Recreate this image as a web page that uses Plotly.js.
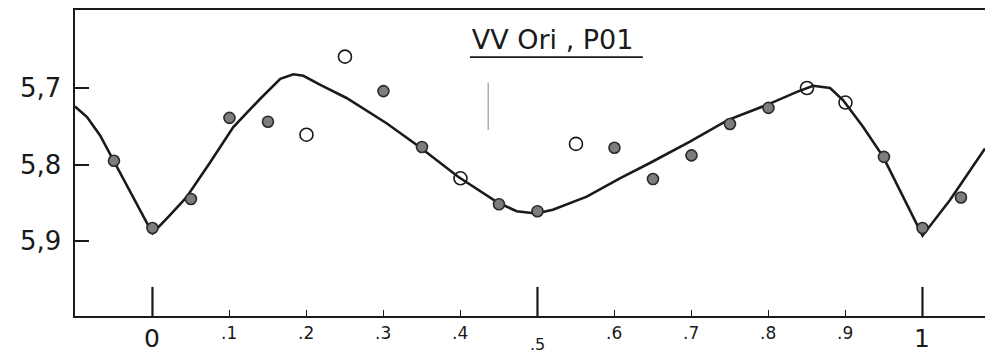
<!DOCTYPE html>
<html>
<head>
<meta charset="utf-8">
<script src="https://cdn.plot.ly/plotly-3.0.1.min.js"></script>
<style>
  html, body { margin: 0; padding: 0; background: #ffffff; }
  #chart { width: 985px; height: 355px; }
</style>
</head>
<body>
<div id="chart"></div>
<script>
// VV Ori light curve (P01): magnitude against phase

// observations, filled symbols
const filledPhase = [-0.05, 0.0, 0.05, 0.10, 0.15, 0.30, 0.35, 0.45, 0.50, 0.60, 0.65, 0.70, 0.75, 0.80, 0.95, 1.00, 1.05];
const filledMag   = [5.795, 5.883, 5.845, 5.739, 5.744, 5.704, 5.777, 5.852, 5.861, 5.778, 5.819, 5.788, 5.747, 5.726, 5.790, 5.883, 5.843];

// observations, open symbols
const openPhase = [0.20, 0.25, 0.40, 0.55, 0.85, 0.90];
const openMag   = [5.761, 5.659, 5.818, 5.773, 5.700, 5.719];

// mean light curve drawn through the points
const curvePhase = [-0.1006, -0.085, -0.068, -0.051, -0.025, 0.0, 0.02, 0.044, 0.075, 0.105, 0.14, 0.166, 0.183, 0.196, 0.218, 0.252, 0.304, 0.347, 0.397, 0.449, 0.473, 0.498, 0.52, 0.564, 0.607, 0.646, 0.698, 0.747, 0.798, 0.837, 0.858, 0.88, 0.897, 0.923, 0.949, 0.975, 1.0, 1.036, 1.0812];
const curveMag   = [5.724, 5.738, 5.762, 5.794, 5.843, 5.890, 5.869, 5.843, 5.797, 5.751, 5.714, 5.688, 5.682, 5.684, 5.696, 5.713, 5.746, 5.777, 5.816, 5.850, 5.861, 5.864, 5.859, 5.842, 5.818, 5.798, 5.770, 5.742, 5.722, 5.705, 5.697, 5.700, 5.716, 5.751, 5.790, 5.842, 5.893, 5.846, 5.779];

// axis labels
const phaseTicks  = [0, 0.1, 0.2, 0.3, 0.4, 0.5, 0.6, 0.7, 0.8, 0.9, 1.0];
const phaseLabels = ['0', '.1', '.2', '.3', '.4', '.5', '.6', '.7', '.8', '.9', '1'];
const magTicks    = [5.7, 5.8, 5.9];
const magLabels   = ['5,7', '5,8', '5,9'];
const markerPhases = [0, 0.5, 1];   // phases marked with long ticks

// a stray pencil stroke near phase 0.44
const strokePhase = [0.436, 0.436];
const strokeMag   = [5.693, 5.755];

const INK = '#1a1a1a';
const FONT = 'DejaVu Sans, Liberation Sans, sans-serif';
const magRange = [5.998, 5.598];

// long ticks rising from the phase axis
const longX = [], longY = [];
markerPhases.forEach(p => { longX.push(p, p, null); longY.push(magRange[0], 5.960, null); });

const traces = [
  { x: curvePhase, y: curveMag, mode: 'lines', type: 'scatter',
    line: { color: INK, width: 2.6, shape: 'linear' }, hoverinfo: 'skip' },
  { x: longX, y: longY, mode: 'lines', type: 'scatter',
    line: { color: INK, width: 2.2 }, hoverinfo: 'skip' },
  { x: strokePhase, y: strokeMag, mode: 'lines', type: 'scatter',
    line: { color: '#9a9a9a', width: 1.2 }, hoverinfo: 'skip' },
  { x: filledPhase, y: filledMag, mode: 'markers', type: 'scatter',
    marker: { size: 11, color: '#7d7d7d', line: { color: '#2a2a2a', width: 1.6 } } },
  { x: openPhase, y: openMag, mode: 'markers', type: 'scatter',
    marker: { size: 13, color: 'rgba(255,255,255,0)', line: { color: INK, width: 1.6 } } }
];

const annotations = [];
phaseTicks.forEach((v, i) => {
  const whole = Math.abs(v - Math.round(v)) < 1e-9;
  const half = Math.abs(v - 0.5) < 1e-9;
  annotations.push({
    x: v, xref: 'x', y: 0, yref: 'paper', text: phaseLabels[i], showarrow: false,
    xanchor: 'center', yanchor: 'middle',
    yshift: whole ? -22 : (half ? -28 : -17),
    font: { family: FONT, size: whole ? 25 : (half ? 16 : 17), color: INK }
  });
});
magTicks.forEach((v, i) => {
  annotations.push({
    x: 0, xref: 'paper', y: v, yref: 'y', text: magLabels[i], showarrow: false,
    xanchor: 'right', yanchor: 'middle', xshift: -12,
    font: { family: FONT, size: 26, color: INK }
  });
});

const layout = {
  width: 985, height: 355,
  margin: { l: 75, r: 0, t: 10, b: 39 },
  paper_bgcolor: '#ffffff', plot_bgcolor: '#ffffff',
  showlegend: false,
  title: {
    text: 'VV Ori , P01',
    x: 0.561, xref: 'container', xanchor: 'center',
    y: 0.89, yref: 'container', yanchor: 'middle',
    font: { family: FONT, size: 27, color: INK }
  },
  xaxis: {
    range: [-0.1006, 1.0812], showgrid: false, zeroline: false,
    showline: true, linecolor: INK, linewidth: 2, mirror: true,
    tickmode: 'array', tickvals: phaseTicks, ticks: 'inside', ticklen: 6,
    tickwidth: 1.5, tickcolor: INK, showticklabels: false
  },
  yaxis: {
    range: magRange, showgrid: false, zeroline: false,
    showline: true, linecolor: INK, linewidth: 2, mirror: false,
    tickmode: 'array', tickvals: magTicks, ticks: 'inside', ticklen: 14,
    tickwidth: 2, tickcolor: INK, showticklabels: false
  },
  shapes: [
    { type: 'line', xref: 'paper', yref: 'paper', x0: 0.434, x1: 0.624, y0: 0.846, y1: 0.846,
      line: { color: INK, width: 1.6 } }
  ],
  annotations: annotations
};

Plotly.newPlot('chart', traces, layout, { displayModeBar: false, staticPlot: true });
</script>
</body>
</html>
